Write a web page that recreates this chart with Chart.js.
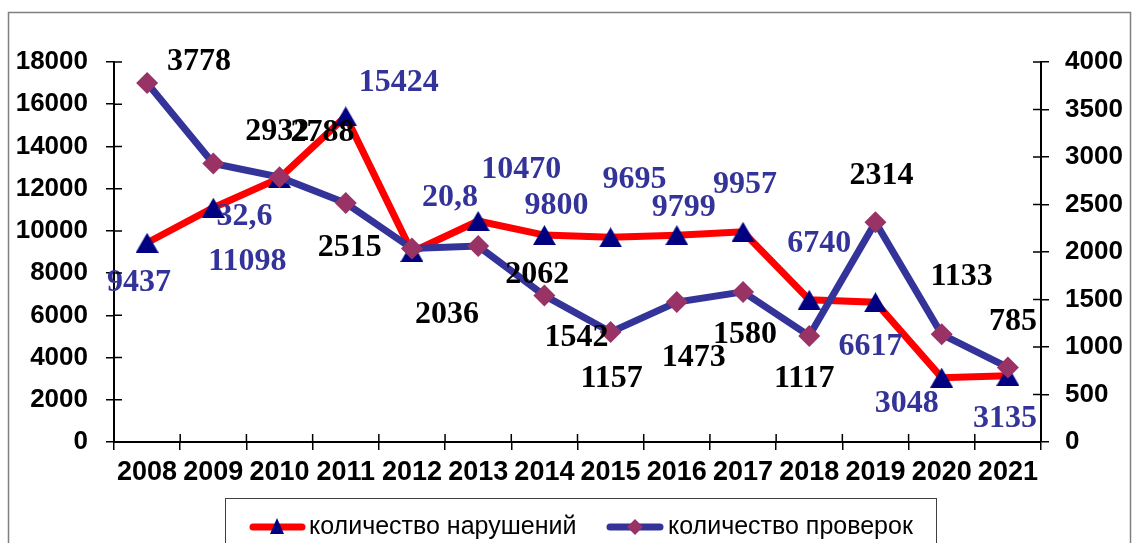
<!DOCTYPE html>
<html>
<head>
<meta charset="utf-8">
<script src="https://cdn.jsdelivr.net/npm/chart.js@4.4.1/dist/chart.umd.min.js"></script>
<style>
  html, body { margin: 0; padding: 0; background: #fff; }
  canvas { display: block; }
</style>
</head>
<body>
<canvas id="chart" width="1132" height="543"></canvas>
<script>
const years = ["2008", "2009", "2010", "2011", "2012", "2013", "2014", "2015", "2016", "2017", "2018", "2019", "2020", "2021"];

// количество нарушений (левая ось)
const violations = [9437, 11098, 12500, 15424, 9000, 10470, 9800, 9695, 9799, 9957, 6740, 6617, 3048, 3135];
const violationLabels = ["9437", "11098", "32,6", "15424", "20,8", "10470", "9800", "9695", "9799", "9957", "6740", "6617", "3048", "3135"];

// количество проверок (правая ось)
const inspections = [3778, 2932, 2788, 2515, 2036, 2062, 1542, 1157, 1473, 1580, 1117, 2314, 1133, 785];
const inspectionLabels = ["3778", "2932", "2788", "2515", "2036", "2062", "1542", "1157", "1473", "1580", "1117", "2314", "1133", "785"];

const leftMax = 18000, leftStep = 2000;
const rightMax = 4000, rightStep = 500;

// смещения подписей относительно точек
const violationOffsets = [[-8, 40], [34, 54], [-35, 39], [53, -34], [38, -54], [43, -51], [12, -29],
  [24, -58], [7, -27], [2, -47], [10, -56], [-5, 44], [-35, 26], [-3, 43]];
const inspectionOffsets = [[52, -21], [64, -32], [43, -44], [4, 45], [35, 66], [59, 29], [32, 42],
  [1, 47], [17, 56], [2, 43], [-5, 43], [6, -46], [20, -58], [5, -46]];

const RED = "#ff0000", BLUE = "#333399", NAVY = "#000080", PLUM = "#993366";

function makeTriangle(w, h, color) {
  const c = document.createElement("canvas");
  c.width = w; c.height = h;
  const g = c.getContext("2d");
  g.fillStyle = color;
  g.beginPath();
  g.moveTo(w / 2, 0);
  g.lineTo(w, h);
  g.lineTo(0, h);
  g.closePath();
  g.fill();
  return c;
}
const triangle = makeTriangle(23, 20, NAVY);
const smallTriangle = makeTriangle(14, 16, NAVY);

// рамка вокруг диаграммы
const framePlugin = {
  id: "frame",
  beforeDraw(chart) {
    const ctx = chart.ctx;
    ctx.save();
    ctx.fillStyle = "#fff";
    ctx.fillRect(0, 0, chart.width, chart.height);
    ctx.strokeStyle = "#808080";
    ctx.lineWidth = 1.5;
    ctx.strokeRect(8.5, 12.5, chart.width - 10, chart.height + 20);
    ctx.restore();
  },
};

// внутренние половинки засечек
const innerTicksPlugin = {
  id: "innerTicks",
  afterDraw(chart) {
    const { ctx, chartArea, scales } = chart;
    ctx.save();
    ctx.strokeStyle = "#000";
    ctx.lineWidth = 1.5;
    ctx.beginPath();
    scales.y.ticks.forEach((t) => {
      const y = scales.y.getPixelForValue(t.value);
      ctx.moveTo(chartArea.left, y);
      ctx.lineTo(chartArea.left + 8, y);
    });
    scales.y1.ticks.forEach((t) => {
      const y = scales.y1.getPixelForValue(t.value);
      ctx.moveTo(chartArea.right - 8, y);
      ctx.lineTo(chartArea.right, y);
    });
    for (let k = 0; k <= years.length; k++) {
      const x = scales.x.getPixelForValue(k - 0.5);
      ctx.moveTo(x, chartArea.bottom - 8);
      ctx.lineTo(x, chartArea.bottom);
    }
    ctx.stroke();
    ctx.restore();
  },
};

// подписи значений
const valueLabelsPlugin = {
  id: "valueLabels",
  afterDatasetsDraw(chart) {
    const ctx = chart.ctx;
    ctx.save();
    ctx.font = "bold 32px 'Liberation Serif', 'Times New Roman', serif";
    ctx.textAlign = "center";
    ctx.textBaseline = "middle";
    [1, 0].forEach((i) => {
      const ds = chart.data.datasets[i];
      const meta = chart.getDatasetMeta(i);
      ctx.fillStyle = ds.labelColor;
      meta.data.forEach((pt, j) => {
        const [dx, dy] = ds.labelOffsets[j];
        ctx.fillText(ds.valueLabels[j], pt.x + dx, pt.y + dy);
      });
    });
    ctx.restore();
  },
};

// легенда в рамке
const legendPlugin = {
  id: "boxLegend",
  afterDraw(chart) {
    const ctx = chart.ctx;
    const y = 527;
    ctx.save();
    ctx.strokeStyle = "#404040";
    ctx.lineWidth = 1;
    ctx.strokeRect(225.5, 498.5, 711, 80);

    ctx.lineCap = "round";
    ctx.lineWidth = 7;
    ctx.strokeStyle = RED;
    ctx.beginPath(); ctx.moveTo(253, y); ctx.lineTo(302, y); ctx.stroke();
    ctx.drawImage(smallTriangle, 277 - 7, y - 9);

    ctx.strokeStyle = BLUE;
    ctx.beginPath(); ctx.moveTo(610, y); ctx.lineTo(660, y); ctx.stroke();
    ctx.fillStyle = PLUM;
    ctx.beginPath();
    ctx.moveTo(635, y - 8); ctx.lineTo(643, y); ctx.lineTo(635, y + 8); ctx.lineTo(627, y);
    ctx.closePath(); ctx.fill();

    ctx.fillStyle = "#000";
    ctx.font = "25px 'Liberation Sans', Arial, sans-serif";
    ctx.textAlign = "left";
    ctx.textBaseline = "middle";
    ctx.fillText(chart.data.datasets[0].label, 309, y);
    ctx.fillText(chart.data.datasets[1].label, 668, y);
    ctx.restore();
  },
};

const tickFont = { family: "'Liberation Sans', Arial, sans-serif", size: 26, weight: "bold" };
const plainNumber = (v) => String(v);

new Chart(document.getElementById("chart"), {
  type: "line",
  data: {
    labels: years,
    datasets: [
      {
        label: "количество нарушений",
        data: violations,
        valueLabels: violationLabels,
        labelOffsets: violationOffsets,
        labelColor: BLUE,
        yAxisID: "y",
        borderColor: RED,
        borderWidth: 7,
        pointStyle: triangle,
        pointRadius: 11,
        order: 1,
      },
      {
        label: "количество проверок",
        data: inspections,
        valueLabels: inspectionLabels,
        labelOffsets: inspectionOffsets,
        labelColor: "#000",
        yAxisID: "y1",
        borderColor: BLUE,
        borderWidth: 7,
        pointStyle: "rectRot",
        pointRadius: 11,
        pointBackgroundColor: PLUM,
        pointBorderColor: PLUM,
        pointBorderWidth: 0,
        order: 0,
      },
    ],
  },
  options: {
    responsive: false,
    animation: false,
    events: [],
    layout: { padding: { top: 62, left: 0, right: 0, bottom: 0 } },
    elements: { line: { tension: 0 } },
    plugins: { legend: { display: false }, tooltip: { enabled: false } },
    scales: {
      x: {
        offset: true,
        afterFit: (s) => { s.height = 101; },
        grid: { drawOnChartArea: false, tickLength: 8, color: "#000", lineWidth: 1.5, offset: true },
        border: { color: "#000", width: 2 },
        ticks: { color: "#000", font: { ...tickFont, size: 27 }, padding: 6, maxRotation: 0, autoSkip: false },
      },
      y: {
        position: "left",
        min: 0,
        max: leftMax,
        afterFit: (s) => { s.width = 114; },
        grid: { drawOnChartArea: false, tickLength: 8, color: "#000", lineWidth: 1.5 },
        border: { color: "#000", width: 2 },
        ticks: { stepSize: leftStep, color: "#000", font: tickFont, padding: 18, callback: plainNumber },
      },
      y1: {
        position: "right",
        min: 0,
        max: rightMax,
        afterFit: (s) => { s.width = 91; },
        grid: { drawOnChartArea: false, tickLength: 8, color: "#000", lineWidth: 1.5 },
        border: { color: "#000", width: 2 },
        ticks: { stepSize: rightStep, color: "#000", font: tickFont, padding: 16, callback: plainNumber },
      },
    },
  },
  plugins: [framePlugin, innerTicksPlugin, valueLabelsPlugin, legendPlugin],
});
</script>
</body>
</html>
